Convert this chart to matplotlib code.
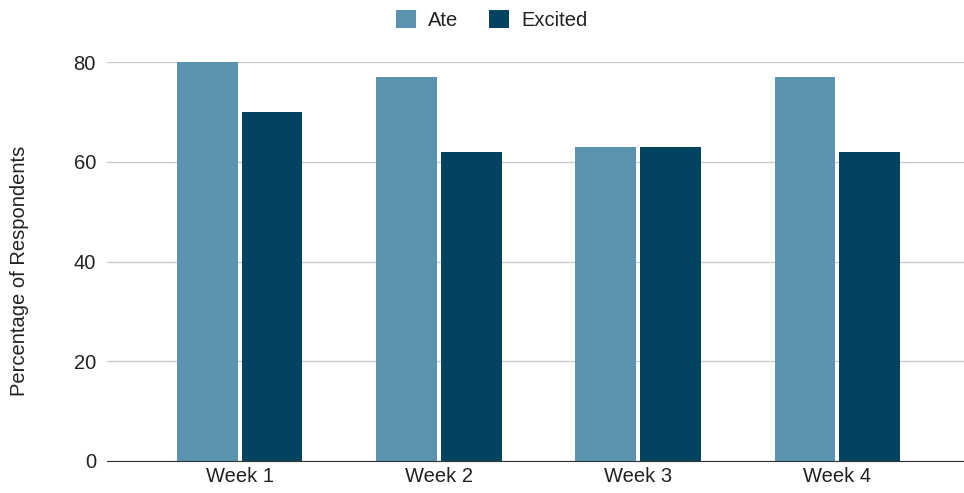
import numpy as np
import matplotlib.pyplot as plt

weeks = ['Week 1', 'Week 2', 'Week 3', 'Week 4']
ate = [80, 77, 63, 77]
excited = [70, 62, 63, 62]

plt.rcParams['font.family'] = ['Liberation Sans', 'DejaVu Sans']

fig = plt.figure(figsize=(9.64, 4.93), dpi=100)
ax = fig.add_axes([0.111, 0.065, 0.889, 0.809])

x = np.arange(len(weeks))
w = 0.305
ax.bar(x - 0.162, ate, w, color='#5b92af', label='Ate', zorder=3)
ax.bar(x + 0.162, excited, w, color='#02445f', label='Excited', zorder=3)

ax.set_xlim(-0.667, 3.637)
ax.set_ylim(0, 80)
ax.set_yticks([0, 20, 40, 60, 80])
ax.set_xticks(x)
ax.set_xticklabels(weeks)
ax.tick_params(axis='both', length=0, labelsize=14.5, labelcolor='#222222')
ax.tick_params(axis='y', pad=8)
ax.tick_params(axis='x', pad=4)
ax.grid(axis='y', color='#cccccc', linewidth=1, zorder=0)
for s in ['top', 'right', 'left']:
    ax.spines[s].set_visible(False)
ax.spines['bottom'].set_color('#333333')
ax.spines['bottom'].set_zorder(4)
fig.text(20 / 964, 1 - 271 / 493, 'Percentage of Respondents', rotation=90,
         ha='center', va='center', fontsize=14.5, color='#222222')

fig.legend(loc='upper center', bbox_to_anchor=(0.51, 1.016), ncol=2, frameon=False,
           fontsize=14.5, handlelength=1.0, handleheight=1.0, columnspacing=1.5,
           handletextpad=0.6, labelcolor='#222222')

fig.savefig('out.png', dpi=100)
